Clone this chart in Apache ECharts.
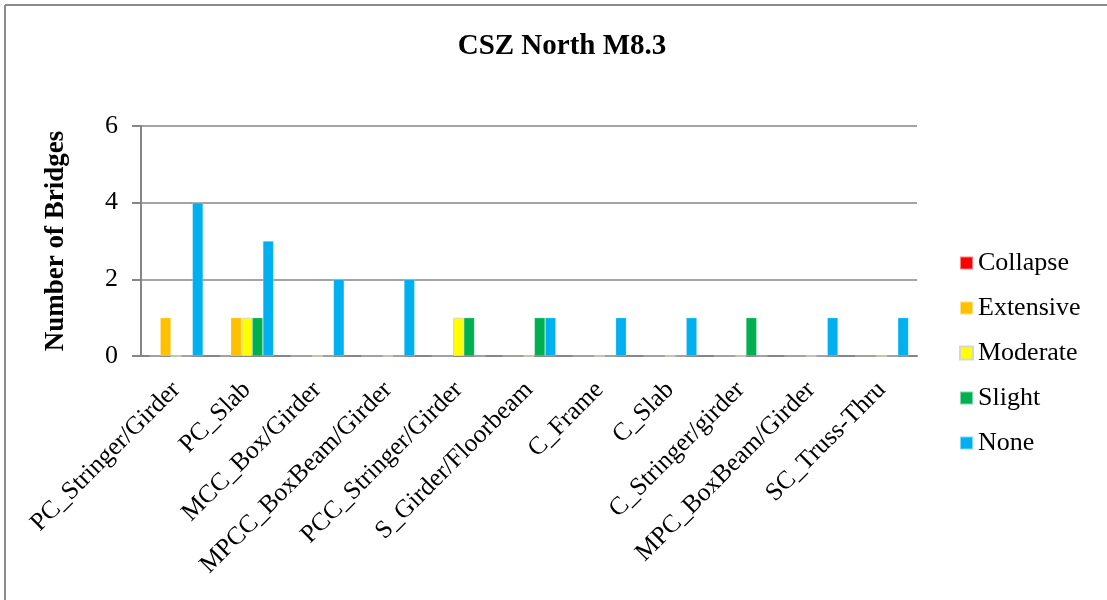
<!DOCTYPE html>
<html>
<head>
<meta charset="utf-8">
<script src="https://cdn.jsdelivr.net/npm/echarts@6/dist/echarts.min.js"></script>
<style>
  html, body { margin: 0; padding: 0; background: #fff; }
  #chart { width: 1107px; height: 600px; }
</style>
</head>
<body>
<div id="chart"></div>
<script>
// Bridge types and damage-state counts for the CSZ North M8.3 scenario
const categories = [
  'PC_Stringer/Girder', 'PC_Slab', 'MCC_Box/Girder', 'MPCC_BoxBeam/Girder',
  'PCC_Stringer/Girder', 'S_Girder/Floorbeam', 'C_Frame', 'C_Slab',
  'C_Stringer/girder', 'MPC_BoxBeam/Girder', 'SC_Truss-Thru'
];
const collapse  = [0, 0, 0, 0, 0, 0, 0, 0, 0, 0, 0];
const extensive = [1, 1, 0, 0, 0, 0, 0, 0, 0, 0, 0];
const moderate  = [0, 1, 0, 0, 1, 0, 0, 0, 0, 0, 0];
const slight    = [0, 1, 0, 0, 1, 1, 0, 0, 1, 0, 0];
const none      = [4, 3, 2, 2, 0, 1, 1, 1, 0, 1, 1];

const seriesDefs = [
  { name: 'Collapse',  data: collapse,  color: '#FF0000' },
  { name: 'Extensive', data: extensive, color: '#FFC000' },
  { name: 'Moderate',  data: moderate,  color: '#FFFF00', border: '#D9D9C0' },
  { name: 'Slight',    data: slight,    color: '#00B050' },
  { name: 'None',      data: none,      color: '#00B0F0' }
];

const FONT = '"Liberation Serif", "Times New Roman", serif';
const AXIS_GRAY = '#868686';

const chart = echarts.init(document.getElementById('chart'), null, { renderer: 'canvas' });

chart.setOption({
  backgroundColor: '#ffffff',
  animation: false,
  title: {
    text: 'CSZ North M8.3',
    left: 557,
    textAlign: 'center',
    top: 27,
    textStyle: { fontFamily: FONT, fontSize: 29, fontWeight: 'bold', color: '#000' }
  },
  legend: {
    orient: 'vertical',
    left: 954,
    top: 245,
    itemWidth: 13,
    itemHeight: 13,
    itemGap: 19,
    icon: 'rect',
    textStyle: { fontFamily: FONT, fontSize: 26, color: '#000', padding: [0, 0, 0, 0] },
    data: seriesDefs.map(s => s.name)
  },
  grid: { left: 141, right: 190, top: 126, bottom: 244, containLabel: false },
  xAxis: {
    type: 'category',
    data: categories,
    axisLine: { show: true, lineStyle: { color: AXIS_GRAY, width: 2 } },
    axisTick: { show: false },
    axisLabel: {
      interval: 0,
      rotate: 45,
      margin: 30,
      fontFamily: FONT,
      fontSize: 25.5,
      color: '#000'
    }
  },
  yAxis: {
    type: 'value',
    min: 0,
    max: 6,
    interval: 2,
    name: 'Number of Bridges',
    nameLocation: 'middle',
    nameGap: 71,
    nameTextStyle: { fontFamily: FONT, fontSize: 27, fontWeight: 'bold', color: '#000' },
    axisLine: { show: true, lineStyle: { color: AXIS_GRAY, width: 2 } },
    axisTick: { show: true, length: 9, lineStyle: { color: AXIS_GRAY, width: 2 } },
    axisLabel: { margin: 23, fontFamily: FONT, fontSize: 26, color: '#000' },
    splitLine: { show: true, lineStyle: { color: AXIS_GRAY, width: 1.5 } }
  },
  series: seriesDefs.map(s => ({
    name: s.name,
    type: 'bar',
    data: s.data,
    barGap: '0%',
    barCategoryGap: '24%',
    itemStyle: {
      color: s.color,
      borderColor: s.border || 'rgba(255,255,255,0.5)',
      borderWidth: s.border ? 1 : 0.5
    }
  })),
  graphic: [
    // chart-area frame (top and left edges in view)
    { type: 'line', shape: { x1: 5, y1: 5, x2: 1107, y2: 5 }, style: { stroke: '#8c8c8c', lineWidth: 2 }, silent: true },
    { type: 'line', shape: { x1: 5, y1: 5, x2: 5, y2: 600 }, style: { stroke: '#8c8c8c', lineWidth: 2 }, silent: true }
  ]
});
</script>
</body>
</html>
